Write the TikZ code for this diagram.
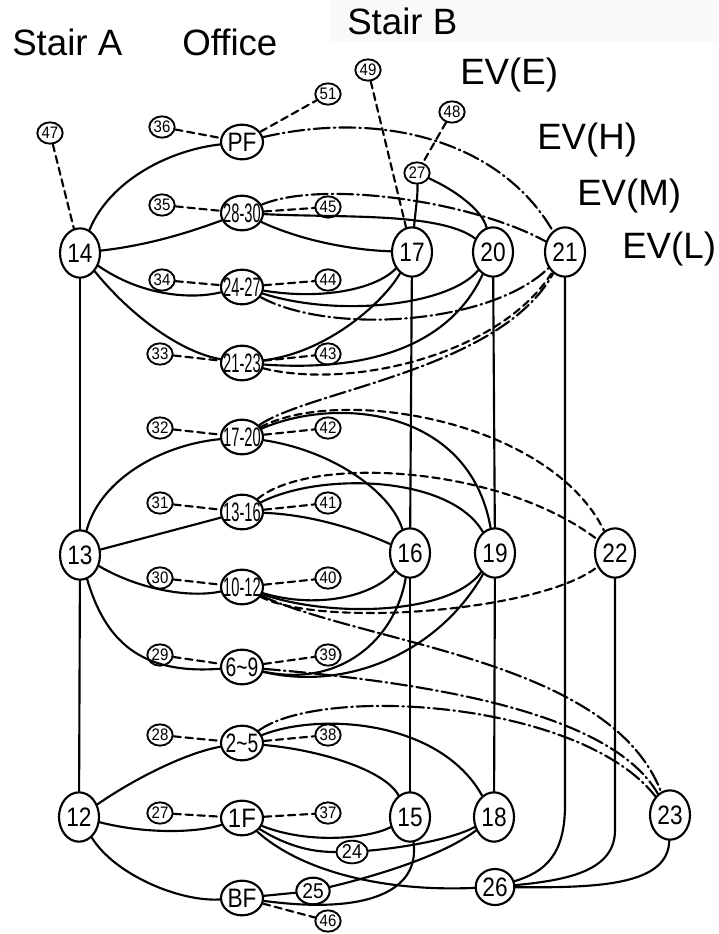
\documentclass[tikz,border=0pt]{standalone}
\usepackage{fontspec}
\usepackage{graphicx}
\setmainfont{Liberation Sans}
\usetikzlibrary{shapes.geometric}
\newcommand{\sq}[2]{\makebox[0pt]{\scalebox{#1}[1]{#2}}}
\begin{document}
\begin{tikzpicture}[x=0.75pt,y=-0.75pt,
  ln/.style={line width=1.6pt, line cap=round},
  dsh/.style={ln, dash pattern=on 5.5pt off 3.5pt},
  ddot/.style={ln, dash pattern=on 12pt off 3pt on 1.2pt off 3pt},
  big/.style={ellipse, draw, line width=1.6pt, minimum width=30pt, minimum height=37pt, inner sep=0pt, font=\fontsize{20}{20}\selectfont},
  mid/.style={ellipse, draw, line width=1.6pt, minimum width=31.5pt, minimum height=26pt, inner sep=0pt, font=\fontsize{20}{20}\selectfont},
  sml/.style={ellipse, draw, line width=1.4pt, minimum width=19pt, minimum height=16pt, inner sep=0pt, font=\fontsize{12.5}{12.5}\selectfont},
  hdr/.style={anchor=base west, inner sep=0pt, font=\fontsize{27.5}{27.5}\selectfont}
]
\useasboundingbox (0,0) rectangle (718,934);
\fill[white] (0,0) rectangle (718,934);
\fill[gray!4] (330,0) rectangle (718,42);

% headers
\node[hdr] (hA) at (12,56) {Stair A};
\node[hdr] (hO) at (182,56) {Office};
\node[hdr] (hB) at (347,35) {Stair B};
\node[hdr] (hE) at (460,85) {EV(E)};
\node[hdr] (hH) at (537,150) {EV(H)};
\node[hdr] (hM) at (577,205) {EV(M)};
\node[hdr] (hL) at (622,258) {EV(L)};

% big nodes
\node[big] (n14) at (80,253) {\sq{0.85}{14}};
\node[big] (n13) at (80,555) {\sq{0.85}{13}};
\node[big] (n12) at (79,817) {\sq{0.85}{12}};
\node[big] (n17) at (412,252) {\sq{0.85}{17}};
\node[big] (n20) at (493,252) {\sq{0.85}{20}};
\node[big] (n21) at (565,252) {\sq{0.85}{21}};
\node[big] (n16) at (410,553) {\sq{0.85}{16}};
\node[big] (n19) at (495,553) {\sq{0.85}{19}};
\node[big] (n22) at (615,553) {\sq{0.85}{22}};
\node[big] (n15) at (410,817) {\sq{0.85}{15}};
\node[big] (n18) at (494,817) {\sq{0.85}{18}};
\node[big] (n23) at (670,815) {\sq{0.85}{23}};
\node[big, minimum width=29pt, minimum height=27pt] (n26) at (495,887) {\sq{0.85}{26}};

% office nodes
\node[mid] (PF) at (242,142) {\sq{0.85}{PF}};
\node[mid] (f28) at (242,213) {\sq{0.55}{28-30}};
\node[mid] (f24) at (242,287) {\sq{0.55}{24-27}};
\node[mid] (f21) at (242,363) {\sq{0.55}{21-23}};
\node[mid] (f17) at (242,437) {\sq{0.55}{17-20}};
\node[mid] (f13) at (242,512) {\sq{0.55}{13-16}};
\node[mid] (f10) at (242,587) {\sq{0.55}{10-12}};
\node[mid] (f6) at (242,667) {\sq{0.72}{6\textasciitilde 9}};
\node[mid] (f2) at (242,743) {\sq{0.72}{2\textasciitilde 5}};
\node[mid] (f1) at (242,818) {\sq{0.9}{1F}};
\node[mid] (fB) at (242,898) {\sq{0.85}{BF}};

% small nodes
\node[sml] (s47) at (50,133) {\sq{0.9}{47}};
\node[sml] (s36) at (162,127) {\sq{0.9}{36}};
\node[sml] (s35) at (162,205) {\sq{0.9}{35}};
\node[sml] (s34) at (162,280) {\sq{0.9}{34}};
\node[sml] (s33) at (160,354) {\sq{0.9}{33}};
\node[sml] (s32) at (160,428) {\sq{0.9}{32}};
\node[sml] (s31) at (160,503) {\sq{0.9}{31}};
\node[sml] (s30) at (160,578) {\sq{0.9}{30}};
\node[sml] (s29) at (160,655) {\sq{0.9}{29}};
\node[sml] (s28) at (160,735) {\sq{0.9}{28}};
\node[sml] (s27) at (160,813) {\sq{0.9}{27}};
\node[sml] (s51) at (328,94) {\sq{0.9}{51}};
\node[sml] (s45) at (328,207) {\sq{0.9}{45}};
\node[sml] (s44) at (328,280) {\sq{0.9}{44}};
\node[sml] (s43) at (328,354) {\sq{0.9}{43}};
\node[sml] (s42) at (328,428) {\sq{0.9}{42}};
\node[sml] (s41) at (328,503) {\sq{0.9}{41}};
\node[sml] (s40) at (328,578) {\sq{0.9}{40}};
\node[sml] (s39) at (328,655) {\sq{0.9}{39}};
\node[sml] (s38) at (328,735) {\sq{0.9}{38}};
\node[sml] (s37) at (328,813) {\sq{0.9}{37}};
\node[sml] (s46) at (328,921) {\sq{0.9}{46}};
\node[sml] (s49) at (368,70) {\sq{0.9}{49}};
\node[sml] (s48) at (452,112) {\sq{0.9}{48}};
\node[sml] (s27b) at (417,173) {\sq{0.9}{27}};
\node[sml, minimum width=23.5pt, minimum height=17pt, font=\fontsize{15}{15}\selectfont] (n24) at (352,852) {\sq{0.9}{24}};
\node[sml, minimum width=25pt, minimum height=20pt, line width=1.6pt, font=\fontsize{16}{16}\selectfont] (n25) at (313,891) {\sq{0.9}{25}};

% verticals
\draw[ln] (n14) -- (n13);
\draw[ln] (n13) -- (n12);
\draw[ln] (n17) -- (n16);
\draw[ln] (n16) -- (n15);
\draw[ln] (n20) -- (n19);
\draw[ln] (n19) -- (n18);
\draw[ln] (n21) -- (565,805) .. controls (565,855) and (545,872) .. (n26);
\draw[ln] (n22) -- (615,830) .. controls (615,870) and (570,880) .. (n26);
\draw[ln] (n23) .. controls (668,885) and (600,888) .. (n26);

% dashed leaves
\draw[dsh] (s47) -- (n14);
\draw[dsh] (s36) -- (PF);
\draw[dsh] (PF) -- (s51);
\draw[dsh] (s35) -- (f28);
\draw[dsh] (f28) -- (s45);
\draw[dsh] (s34) -- (f24);
\draw[dsh] (f24) -- (s44);
\draw[dsh] (s33) -- (f21);
\draw[dsh] (f21) -- (s43);
\draw[dsh] (s32) -- (f17);
\draw[dsh] (f17) -- (s42);
\draw[dsh] (s31) -- (f13);
\draw[dsh] (f13) -- (s41);
\draw[dsh] (s30) -- (f10);
\draw[dsh] (f10) -- (s40);
\draw[dsh] (s29) -- (f6);
\draw[dsh] (f6) -- (s39);
\draw[dsh] (s28) -- (f2);
\draw[dsh] (f2) -- (s38);
\draw[dsh] (s27) -- (f1);
\draw[dsh] (f1) -- (s37);
\draw[dsh] (fB) -- (s46);
\draw[dsh] (s49) -- (n17);
\draw[dsh] (s48) -- (s27b);
\draw[ln] (s27b) .. controls (418,195) and (415,215) .. (n17);
\draw[ln] (s27b) .. controls (455,190) and (482,210) .. (n20);

% stair A links
\draw[ln] (n14) .. controls (110,180) and (170,150) .. (PF);
\draw[ln] (n14) .. controls (150,245) and (190,232) .. (f28);
\draw[ln] (n14) .. controls (140,295) and (190,300) .. (f24);
\draw[ln] (n14) .. controls (130,315) and (180,352) .. (f21);
\draw[ln] (n13) .. controls (100,480) and (160,445) .. (f17);
\draw[ln] (n13) -- (f13);
\draw[ln] (n13) .. controls (140,590) and (190,598) .. (f10);
\draw[ln] (n13) .. controls (105,640) and (140,675) .. (f6);
\draw[ln] (n12) .. controls (140,775) and (190,752) .. (f2);
\draw[ln] (n12) .. controls (150,835) and (200,832) .. (f1);
\draw[ln] (n12) .. controls (115,875) and (180,902) .. (fB);

% upper floors
\draw[ddot] (PF) .. controls (380,110) and (500,140) .. (n21);
\draw[ddot] (f28) .. controls (320,180) and (470,200) .. (n21);
\draw[ln] (f28) .. controls (340,218) and (440,212) .. (n20);
\draw[ln] (f28) .. controls (300,240) and (350,250) .. (n17);
\draw[ln] (f24) .. controls (320,300) and (375,290) .. (n17);
\draw[ln] (f24) .. controls (340,318) and (450,305) .. (n20);
\draw[ddot] (f24) .. controls (330,335) and (490,325) .. (n21);
\draw[ln] (f21) .. controls (330,352) and (385,300) .. (n17);
\draw[ln] (f21) .. controls (370,372) and (450,345) .. (n20);
\draw[dsh] (f21) .. controls (350,390) and (500,355) .. (n21);

% middle floors
\draw[ddot] (f17) .. controls (310,390) and (500,370) .. (n21);
\draw[dsh] (f17) .. controls (340,385) and (550,420) .. (n22);
\draw[ln] (f17) .. controls (340,395) and (470,410) .. (n19);
\draw[ln] (f17) .. controls (330,450) and (390,490) .. (n16);
\draw[dsh] (f13) .. controls (310,455) and (500,465) .. (n22);
\draw[ln] (f13) .. controls (320,472) and (450,475) .. (n19);
\draw[ln] (f13) .. controls (320,515) and (370,535) .. (n16);
\draw[ln] (f10) .. controls (320,610) and (375,595) .. (n16);
\draw[ln] (f10) .. controls (330,618) and (450,615) .. (n19);
\draw[dsh] (f10) .. controls (320,628) and (540,612) .. (n22);
\draw[ddot] (f10) .. controls (370,645) and (610,660) .. (n23);

% lower floors
\draw[ln] (f6) .. controls (340,688) and (395,640) .. (n16);
\draw[ln] (f6) .. controls (350,692) and (440,650) .. (n19);
\draw[ddot] (f6) .. controls (420,682) and (610,710) .. (n23);
\draw[ddot] (f2) .. controls (320,685) and (580,700) .. (n23);
\draw[ln] (f2) .. controls (320,712) and (440,720) .. (n18);
\draw[ln] (f2) .. controls (320,750) and (385,770) .. (n15);
\draw[ln] (f1) .. controls (310,845) and (370,838) .. (n15);
\draw[ln] (f1) .. controls (290,848) and (315,852) .. (n24);
\draw[ln] (n24) .. controls (400,848) and (450,840) .. (n18);
\draw[ln] (f1) .. controls (300,870) and (380,892) .. (n26);
\draw[ln] (fB) -- (n25);
\draw[ln] (n25) .. controls (400,870) and (450,850) .. (n18);
\draw[ln] (fB) .. controls (370,915) and (420,890) .. (n15);
\end{tikzpicture}
\end{document}
